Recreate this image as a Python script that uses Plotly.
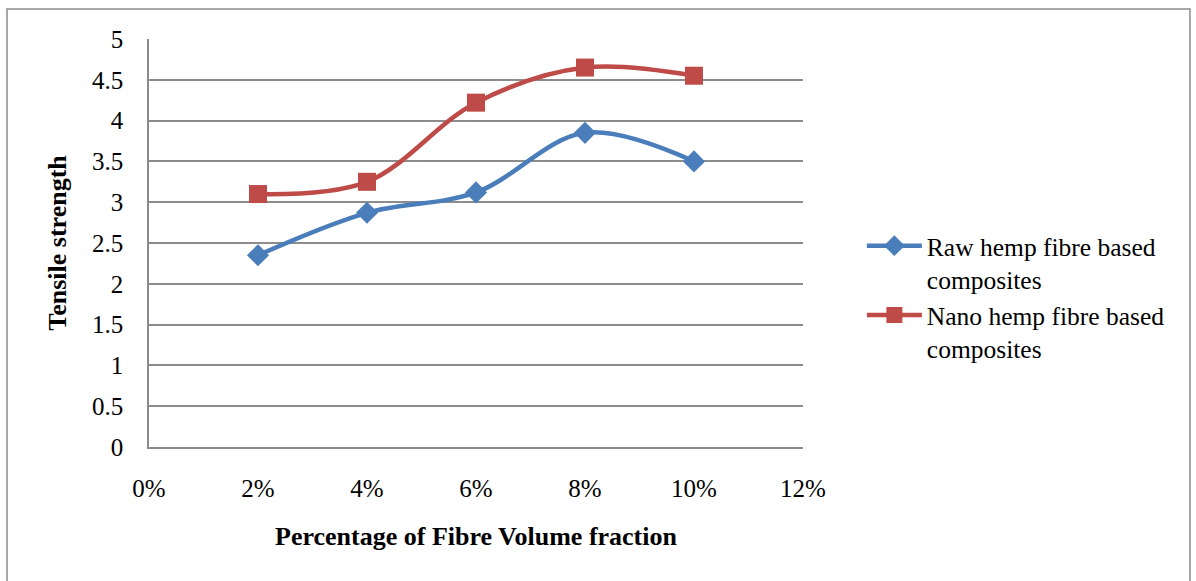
import plotly.graph_objects as go

# Fibre volume fraction (as fractions) and tensile strength readings
volume_fraction = [0.02, 0.04, 0.06, 0.08, 0.10]
raw_hemp = [2.35, 2.87, 3.12, 3.85, 3.50]
nano_hemp = [3.10, 3.25, 4.22, 4.65, 4.55]

series_names = ["Raw hemp fibre based<br>composites", "Nano hemp fibre based<br>composites"]
blue = "#4a7ebb"
red = "#be4b48"
grid = "#8c8c8c"
font_family = "Liberation Serif, Times New Roman, serif"

fig = go.Figure()
fig.add_trace(go.Scatter(
    x=volume_fraction, y=raw_hemp, name=series_names[0],
    mode="lines+markers",
    line=dict(color=blue, width=4.5, shape="spline", smoothing=1),
    marker=dict(symbol="diamond", size=17, color=blue),
))
fig.add_trace(go.Scatter(
    x=volume_fraction, y=nano_hemp, name=series_names[1],
    mode="lines+markers",
    line=dict(color=red, width=4.5, shape="spline", smoothing=1),
    marker=dict(symbol="square", size=18, color=red),
))

# outer frame around the whole chart
fig.add_shape(type="rect", xref="paper", yref="paper",
              x0=-0.2171, x1=1.5917, y0=-0.35, y1=1.0735,
              line=dict(color="#8c8c8c", width=1.5), fillcolor="rgba(0,0,0,0)", layer="below")

fig.update_layout(
    width=1196, height=581,
    margin=dict(l=149, r=393, t=39, b=134),
    paper_bgcolor="white", plot_bgcolor="white",
    font=dict(family=font_family, size=25, color="black"),
    showlegend=True,
    legend=dict(x=1.09, y=0.55, xanchor="left", yanchor="top",
                valign="top", font=dict(size=25.5), tracegroupgap=16,
                bgcolor="rgba(0,0,0,0)", itemwidth=55),
    xaxis=dict(range=[0, 0.12], dtick=0.02, tick0=0, tickformat=".0%",
               showgrid=False, zeroline=False,
               showline=True, linecolor=grid, linewidth=1.5,
               ticks="", ticklabelstandoff=18, tickfont=dict(size=25),
               title=dict(text="<b>Percentage of Fibre Volume fraction</b>",
                          font=dict(size=26), standoff=26)),
    yaxis=dict(range=[0, 5], dtick=0.5, tick0=0,
               showgrid=True, gridcolor=grid, gridwidth=1.5,
               zeroline=False, showline=True, linecolor=grid, linewidth=1.5,
               ticks="", ticklabelstandoff=19, tickfont=dict(size=25),
               title=dict(text="<b>Tensile strength</b>",
                          font=dict(size=26), standoff=18)),
)

fig.write_html("out.html")
